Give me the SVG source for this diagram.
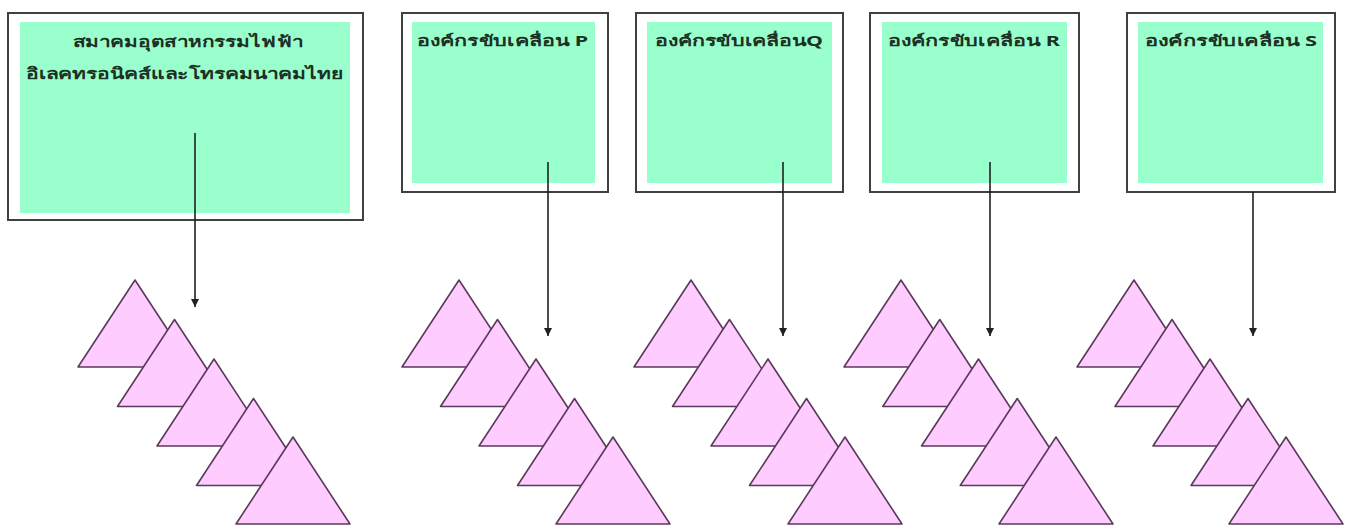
<svg xmlns="http://www.w3.org/2000/svg" width="1360" height="530" viewBox="0 0 1360 530">
<defs>
<style>
.outer{fill:#ffffff;stroke:#404040;stroke-width:2}
.inner{fill:#99ffcc;stroke:none}
.lbl{font-family:"Noto Sans","DejaVu Sans","Liberation Sans",sans-serif;font-size:15px;font-weight:bold;fill:#1c3024}
.tri{fill:#ffccff;stroke:#5a3a5a;stroke-width:1.6;stroke-linejoin:round}
.conn{stroke:#202020;stroke-width:1.6;fill:none}
</style>
<marker id="ah" viewBox="0 0 10 10" refX="10" refY="5" markerWidth="5" markerHeight="5" orient="auto" markerUnits="strokeWidth">
<path d="M0,0 L10,5 L0,10 z" fill="#202020"/>
</marker>
<polygon id="t" points="0,0 57,87 -57,87"/>
</defs>
<rect width="1360" height="530" fill="#ffffff"/>

<g id="node-main">
<rect class="outer" x="8" y="13" width="355" height="207"/>
<rect class="inner" x="20" y="22" width="330" height="191"/>
<text class="lbl" x="188" y="47" text-anchor="middle" textLength="230" lengthAdjust="spacingAndGlyphs">สมาคมอุตสาหกรรมไฟฟ้า</text>
<text class="lbl" x="185" y="79" text-anchor="middle" textLength="318" lengthAdjust="spacingAndGlyphs">อิเลคทรอนิคส์และโทรคมนาคมไทย</text>
</g>

<g id="node-p">
<rect class="outer" x="402" y="13" width="206" height="179"/>
<rect class="inner" x="412" y="22" width="183" height="161"/>
<text class="lbl" x="417" y="46" textLength="171" lengthAdjust="spacingAndGlyphs">องค์กรขับเคลื่อน P</text>
</g>

<g id="node-q">
<rect class="outer" x="636" y="13" width="207" height="179"/>
<rect class="inner" x="647" y="22" width="185" height="161"/>
<text class="lbl" x="655" y="46" textLength="168" lengthAdjust="spacingAndGlyphs">องค์กรขับเคลื่อนQ</text>
</g>

<g id="node-r">
<rect class="outer" x="870" y="13" width="209" height="179"/>
<rect class="inner" x="882" y="22" width="185" height="161"/>
<text class="lbl" x="888" y="46" textLength="172" lengthAdjust="spacingAndGlyphs">องค์กรขับเคลื่อน R</text>
</g>

<g id="node-s">
<rect class="outer" x="1127" y="13" width="208" height="179"/>
<rect class="inner" x="1138" y="22" width="185" height="161"/>
<text class="lbl" x="1145" y="46" textLength="172" lengthAdjust="spacingAndGlyphs">องค์กรขับเคลื่อน S</text>
</g>

<g id="stack-main">
<use href="#t" class="tri" x="135" y="280"/>
<use href="#t" class="tri" x="174.5" y="319.5"/>
<use href="#t" class="tri" x="214" y="359"/>
<use href="#t" class="tri" x="253.5" y="398.5"/>
<use href="#t" class="tri" x="293" y="437"/>
</g>

<g id="stack-p">
<use href="#t" class="tri" x="459" y="280"/>
<use href="#t" class="tri" x="497.5" y="319.5"/>
<use href="#t" class="tri" x="536" y="359"/>
<use href="#t" class="tri" x="574.5" y="398.5"/>
<use href="#t" class="tri" x="613" y="437"/>
</g>

<g id="stack-q">
<use href="#t" class="tri" x="691" y="280"/>
<use href="#t" class="tri" x="729.5" y="319.5"/>
<use href="#t" class="tri" x="768" y="359"/>
<use href="#t" class="tri" x="806.5" y="398.5"/>
<use href="#t" class="tri" x="845" y="437"/>
</g>

<g id="stack-r">
<use href="#t" class="tri" x="901" y="280"/>
<use href="#t" class="tri" x="939.75" y="319.5"/>
<use href="#t" class="tri" x="978.5" y="359"/>
<use href="#t" class="tri" x="1017.25" y="398.5"/>
<use href="#t" class="tri" x="1056" y="437"/>
</g>

<g id="stack-s">
<use href="#t" class="tri" x="1134" y="280"/>
<use href="#t" class="tri" x="1172" y="319.5"/>
<use href="#t" class="tri" x="1210" y="359"/>
<use href="#t" class="tri" x="1248" y="398.5"/>
<use href="#t" class="tri" x="1286" y="437"/>
</g>

<g id="connectors">
<line class="conn" x1="195" y1="133" x2="195" y2="307" marker-end="url(#ah)"/>
<line class="conn" x1="548" y1="162" x2="548" y2="336" marker-end="url(#ah)"/>
<line class="conn" x1="783" y1="162" x2="783" y2="336" marker-end="url(#ah)"/>
<line class="conn" x1="990" y1="162" x2="990" y2="336" marker-end="url(#ah)"/>
<line class="conn" x1="1253" y1="192" x2="1253" y2="336" marker-end="url(#ah)"/>
</g>
</svg>
